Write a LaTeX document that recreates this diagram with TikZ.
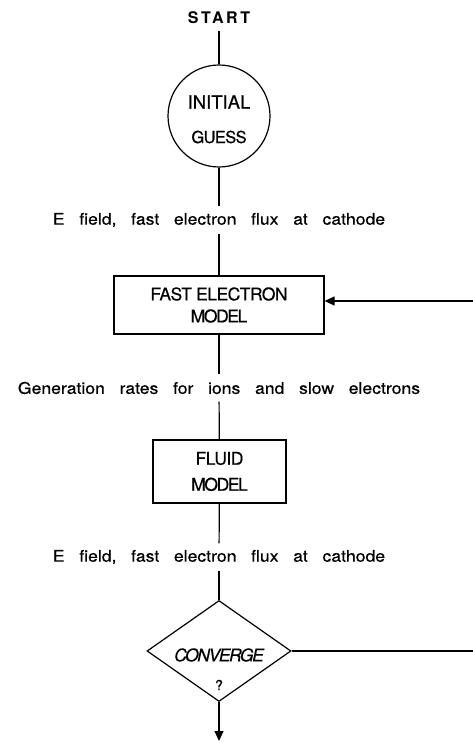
\documentclass[tikz,border=0pt]{standalone}
\usepackage{fontspec}
\setmainfont{TeX Gyre Heros}
\newfontfamily\labfont[FakeStretch=1.1,WordSpace=3,FakeBold=0.4]{TeX Gyre Heros}
\newfontfamily\boxfont[LetterSpace=-3,FakeBold=0.4]{TeX Gyre Heros}
\newfontfamily\guessfont[LetterSpace=-4,FakeBold=0.4]{TeX Gyre Heros}
\newfontfamily\tightfont[LetterSpace=-8,FakeBold=0.4]{TeX Gyre Heros}
\newfontfamily\startfont[LetterSpace=16]{TeX Gyre Heros}
\usepackage{tikz}
\usetikzlibrary{arrows.meta,positioning,shapes.geometric}

\begin{document}
\begin{tikzpicture}[x=1pt,y=-1pt,>={Triangle[length=10pt,width=9pt]}, line width=1.2pt]
\tikzstyle{box}=[draw, rectangle, line width=1.2pt, inner sep=0pt, align=center, font=\boxfont\fontsize{17.5}{23}\selectfont]
\tikzstyle{lab}=[inner sep=0pt, minimum height=26pt, font=\labfont\fontsize{16}{19}\selectfont]
\useasboundingbox (0,0) rectangle (473,743);
\node[font=\startfont\bfseries\fontsize{16}{18}\selectfont, inner sep=0pt, minimum height=24pt] (start) at (219,18) {START};
\node[box, circle, minimum size=102pt] (guess) at (219,116) {};
\node[font=\boxfont\fontsize{18.5}{20}\selectfont\addfontfeatures{LetterSpace=0}] (guess1) at (219,102) {INITIAL};
\node[font=\guessfont\fontsize{16.5}{20}\selectfont] (guess2) at (219,137) {GUESS};
\node[lab] (efield1) at (219,220) {E field, fast electron flux at cathode};
\node[box, minimum width=210pt, minimum height=58pt] (fast) at (219,305) {FAST ELECTRON\\[-1pt]{\tightfont MODEL}};
\node[lab] (gen) at (219,388) {Generation rates for ions and slow electrons};
\node[box, minimum width=133pt, minimum height=63pt] (fluid) at (219.5,471.5) {FLUID\\[3pt]{\tightfont MODEL}};
\node[lab] (efield2) at (219,557) {E field, fast electron flux at cathode};
\node[draw, diamond, line width=1.2pt, inner sep=0pt, minimum width=144pt, minimum height=101pt] (conv) at (219,651) {};
\node[font=\tightfont\itshape\fontsize{17.5}{20}\selectfont] (convq) at (219,655) {CONVERGE};
\node[font=\boxfont\fontsize{14}{17}\selectfont] (convq2) at (219,685) {?};
\coordinate (stop) at (219,741);
\coordinate (backA) at (474,651);
\coordinate (backB) at (474,301);
\draw (start)--(guess); \draw (guess)--(efield1); \draw (efield1)--(fast);
\draw (fast)--(gen); \draw (gen)--(fluid); \draw (fluid)--(efield2); \draw (efield2)--(conv);
\draw[->] (conv)--(stop);
\draw (conv.east)--(backA);
\draw[->] (backB)--(backB -| fast.east);
\end{tikzpicture}
\end{document}
